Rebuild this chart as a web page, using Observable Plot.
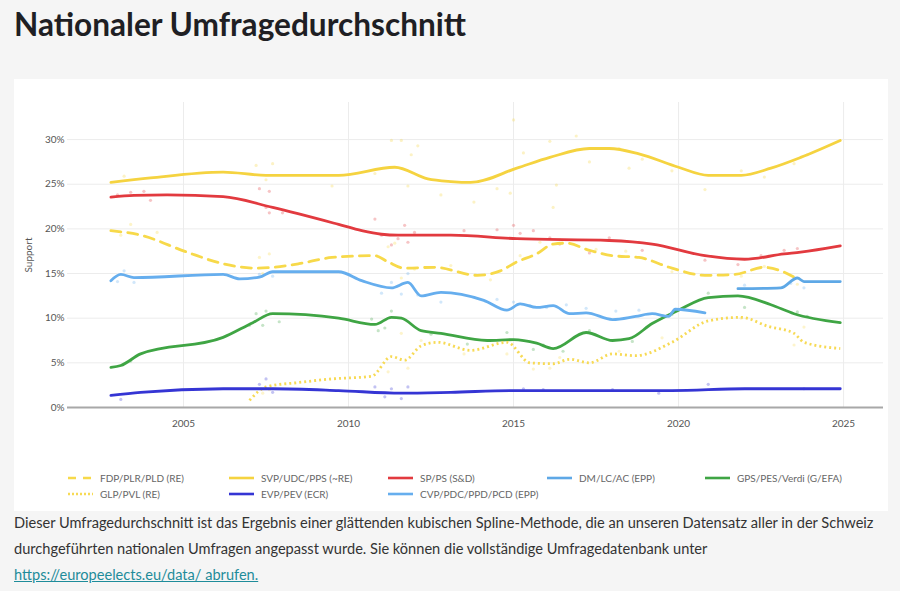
<!DOCTYPE html>
<html>
<head>
<meta charset="utf-8">
<script src="https://cdn.jsdelivr.net/npm/d3@7"></script>
<script src="https://cdn.jsdelivr.net/npm/@observablehq/plot@0.6"></script>
<style>
  html, body { margin: 0; padding: 0; }
  body { width: 900px; height: 591px; background: #f5f5f5; position: relative; overflow: hidden; font-family: Lato, "Open Sans", sans-serif; }
  #title { position: absolute; left: 14px; top: 5px; font-size: 31.6px; font-weight: 700; color: #1f1f24; }
  #panel { position: absolute; left: 14px; top: 79px; width: 874px; height: 432px; background: #fff; }
  #chart { position: absolute; left: 0; top: 0; }
  .leg { position: absolute; font-size: 10px; color: #666; white-space: nowrap; line-height: 12px; }
  .leg svg { position: absolute; left: -32px; top: 1px; }
  #caption { position: absolute; left: 14px; top: 510px; width: 886px; font-size: 14.6px; line-height: 26px; color: #333; }
  #caption a { color: #1e8c9a; text-decoration: underline; }
</style>
</head>
<body>
<div id="title">Nationaler Umfragedurchschnitt</div>
<div id="panel"><div id="chart"></div></div>
<div id="caption">Dieser Umfragedurchschnitt ist das Ergebnis einer glättenden kubischen Spline-Methode, die an unseren Datensatz aller in der Schweiz<br>durchgeführten nationalen Umfragen angepasst wurde. Sie können die vollständige Umfragedatenbank unter<br><a>https://europeelects.eu/data/ abrufen.</a></div>
<script>
// ---------- data (year, support %) ----------
const svpTrend = [[2002.8,25.2],[2004,25.7],[2006.2,26.35],[2007.5,26.0],[2009.7,26.0],[2011.4,26.9],[2012.4,25.6],[2013.1,25.3],[2013.7,25.2],[2015.1,26.8],[2016.1,28.0],[2017.3,29.0],[2017.9,29.0],[2018.8,28.4],[2020,26.9],[2020.9,26.0],[2021.9,26.0],[2022.8,26.8],[2023.7,28.0],[2024.9,29.9]];
const spTrend = [[2002.8,23.55],[2003.5,23.75],[2004.5,23.8],[2006.2,23.6],[2007.7,22.4],[2009.7,20.5],[2010.4,19.8],[2011,19.4],[2011.5,19.3],[2013.1,19.3],[2015.1,18.9],[2017.9,18.7],[2019.2,18.3],[2020.8,17.0],[2022,16.6],[2023.2,17.2],[2023.7,17.4],[2024.9,18.1]];
const fdpTrend = [[2002.8,19.8],[2003.7,19.3],[2005.1,17.4],[2006.2,16.1],[2007.2,15.6],[2007.7,15.7],[2008.5,16.1],[2009.5,16.8],[2010.8,17.0],[2011.2,16.3],[2011.7,15.6],[2012.6,15.7],[2013.9,14.8],[2014.6,15.3],[2015.1,16.3],[2015.7,17.2],[2016.2,18.3],[2016.6,18.4],[2017.3,17.6],[2018,17.0],[2018.8,16.8],[2019.8,15.6],[2020.8,14.8],[2021.7,14.9],[2022.6,15.7],[2023.1,15.3],[2023.6,14.4]];
const dmTrend = [[2021.8,13.3],[2023.1,13.4],[2023.6,14.5],[2023.8,14.1],[2024.9,14.1]];
const cvpTrend = [[2002.8,14.2],[2003.1,14.9],[2003.5,14.55],[2006.2,14.9],[2006.7,14.4],[2007.3,14.6],[2007.7,15.2],[2009.7,15.2],[2010.4,14.2],[2011.3,13.4],[2011.8,14.0],[2012.2,12.5],[2012.8,12.9],[2014.1,12.0],[2014.8,10.9],[2015.2,11.6],[2015.7,11.2],[2016.2,11.4],[2016.7,10.5],[2017.2,10.6],[2018,9.85],[2018.7,10.2],[2019.2,10.5],[2019.7,10.2],[2019.9,11.0],[2020.8,10.6]];
const gpsTrend = [[2002.8,4.5],[2003.1,4.7],[2003.7,6.0],[2006.2,7.85],[2007.1,9.5],[2007.7,10.5],[2009.7,10.0],[2010.8,9.3],[2011.3,10.1],[2011.6,10.0],[2012.2,8.6],[2012.8,8.3],[2014.2,7.5],[2015,7.6],[2015.7,7.2],[2016.2,6.6],[2017.2,8.4],[2018,7.5],[2018.5,7.7],[2019.2,9.4],[2020,10.9],[2020.9,12.3],[2021.8,12.5],[2022.8,11.5],[2023.5,10.5],[2024.9,9.5]];
const glpTrend = [[2007,0.8],[2007.5,2.3],[2008.5,2.8],[2009.5,3.2],[2010.7,3.5],[2011.3,5.7],[2011.7,5.3],[2012.2,6.9],[2012.7,7.3],[2013.7,6.4],[2014.8,7.3],[2015.5,5.0],[2016.2,4.9],[2016.7,5.4],[2017.3,5.0],[2018,6.0],[2018.7,5.8],[2019.8,7.3],[2020.9,9.7],[2021.9,10.1],[2022.7,9.1],[2023.5,8.3],[2023.8,7.3],[2024.9,6.6]];
const evpTrend = [[2002.8,1.35],[2003.7,1.7],[2006.2,2.1],[2007.7,2.1],[2009.7,1.9],[2011.6,1.6],[2013.1,1.7],[2015,1.9],[2019.8,1.9],[2022,2.1],[2024.9,2.1]];

// individual polls (faint dots)
const svpPolls = [[2003.2,25.9],[2007.2,27.1],[2007.7,27.3],[2007.5,25.5],[2009.5,24.8],[2010.8,26.2],[2011.3,29.9],[2011.6,29.9],[2011.9,28.3],[2012.1,29.3],[2011.8,24.8],[2012.8,23.8],[2013.8,23.0],[2014.5,24.5],[2014.9,24.0],[2015,32.2],[2015.3,28.5],[2016.1,29.8],[2016.2,22.4],[2016.3,24.9],[2016.9,30.4],[2017.3,27.5],[2018.2,29.0],[2018.5,26.8],[2018.9,27.8],[2019.8,26.5],[2020.8,24.4],[2021.9,26.5],[2022.6,25.8],[2023.5,27.3],[2023.9,28.3]];
const spPolls = [[2003,23.8],[2003.4,24.1],[2003.8,24.2],[2004,23.2],[2007.3,24.5],[2007.6,24.2],[2007.6,21.8],[2008,21.8],[2007.5,22.4],[2010.8,21.1],[2011,19.3],[2011.3,18.2],[2011.5,18.9],[2011.7,20.4],[2011.8,18.5],[2012,19.6],[2013.5,19.8],[2014.5,19.9],[2015,20.4],[2015.2,19.5],[2015.6,19.8],[2016.1,19.0],[2016.4,18.3],[2017.3,17.3],[2017.9,19.0],[2018.8,18.5],[2018.9,17.6],[2020.8,16.5],[2021.8,16.0],[2022.5,17.0],[2023.2,17.6],[2023.6,17.8]];
const fdpPolls = [[2003.1,19.3],[2003.4,20.5],[2004.2,19.6],[2007.3,16.8],[2007.6,17.2],[2007.4,15.0],[2011.2,18.0],[2011.4,18.4],[2011.6,14.5],[2012.0,15.5],[2013.1,15.9],[2014.3,14.3],[2015.2,17.0],[2015.8,18.5],[2016.4,18.8],[2017.5,17.7],[2018.4,17.5],[2019.8,15.2],[2021.9,14.7],[2022.6,15.8],[2023.6,13.8]];
const centrePolls = [[2003,14.1],[2003.2,15.3],[2003.5,14.0],[2007.3,14.9],[2007.7,14.7],[2011.0,12.8],[2011.3,14.0],[2011.6,12.7],[2011.8,15.0],[2012.1,12.6],[2012.8,11.8],[2014.5,12.1],[2015.0,11.8],[2015.5,11.4],[2016,11.2],[2016.6,11.5],[2017.2,11.1],[2018.1,10.8],[2018.8,10.9],[2019.5,10.3],[2022.0,13.7],[2023.4,13.9],[2023.8,13.4]];
const gpsPolls = [[2003.4,5.2],[2007,9.2],[2007.2,10.5],[2007.5,10.8],[2007.4,9.2],[2007.9,9.6],[2010.7,9.9],[2010.9,8.6],[2011.3,10.8],[2011.1,8.9],[2012.5,8.2],[2013.6,7.1],[2014.8,8.4],[2015.6,6.5],[2015.9,7.0],[2016.5,6.3],[2017.3,8.6],[2018.6,7.4],[2019.8,10.4],[2020.9,12.8],[2022,11.2],[2023.6,10.7],[2023.9,10.2]];
const glpPolls = [[2007.4,1.6],[2007.6,2.0],[2011.2,4.0],[2011.6,8.3],[2011.8,4.4],[2012.2,7.5],[2013.5,6.0],[2014.8,6.0],[2015.6,4.3],[2016.1,4.4],[2016.4,5.6],[2018.2,6.3],[2019.5,7.8],[2021.9,10.0],[2023.5,7.0],[2023.8,9.0]];
const evpPolls = [[2003.1,0.9],[2007.3,2.6],[2007.5,3.2],[2007.7,1.7],[2010.8,2.3],[2011.1,1.2],[2011.3,2.1],[2011.6,1.0],[2011.8,2.3],[2015.3,2.1],[2015.9,2.0],[2018,2.0],[2019.4,1.6],[2020.9,2.6],[2023.8,2.1]];

const xTicks = [2005, 2010, 2015, 2020, 2025];
const yTicks = [0, 5, 10, 15, 20, 25, 30];

const series = [
  {name: "FDP/PLR/PLD (RE)", trend: fdpTrend, polls: fdpPolls, color: "#f7d94a", dash: "10,7"},
  {name: "SVP/UDC/PPS (~RE)", trend: svpTrend, polls: svpPolls, color: "#f5d340", dash: null},
  {name: "SP/PS (S&D)", trend: spTrend, polls: spPolls, color: "#e23a3f", dash: null},
  {name: "DM/LC/AC (EPP)", trend: dmTrend, polls: [], color: "#5ea8e6", dash: null},
  {name: "GPS/PES/Verdi (G/EFA)", trend: gpsTrend, polls: gpsPolls, color: "#3fa544", dash: null},
  {name: "GLP/PVL (RE)", trend: glpTrend, polls: glpPolls, color: "#f7da55", dash: "2,3"},
  {name: "EVP/PEV (ECR)", trend: evpTrend, polls: evpPolls, color: "#3535d4", dash: null},
  {name: "CVP/PDC/PPD/PCD (EPP)", trend: cvpTrend, polls: centrePolls, color: "#66aeee", dash: null}
];

const marks = [
  Plot.gridX(xTicks, {stroke: "#ececec", strokeOpacity: 1}),
  Plot.gridY(yTicks.filter(d => d > 0), {stroke: "#ececec", strokeOpacity: 1}),
  Plot.axisX(xTicks, {tickSize: 0, tickPadding: 12, tickFormat: d => String(d), label: null, fill: "#555", fontSize: 10}),
  Plot.axisY(yTicks, {tickSize: 0, tickPadding: 3, tickFormat: d => d + "%", label: "Support", labelAnchor: "center", labelArrow: "none", labelOffset: 43, fill: "#555", fontSize: 10}),
  Plot.ruleY([0], {stroke: "#a8a8a8", strokeWidth: 2})
];
for (const s of series) {
  marks.push(Plot.dot(s.polls, {x: d => d[0], y: d => d[1], r: 1.6, fill: s.color, fillOpacity: 0.3, stroke: "none"}));
}
for (const s of series) {
  marks.push(Plot.line(s.trend, {x: d => d[0], y: d => d[1], stroke: s.color, strokeWidth: 2.8, curve: "monotone-x", strokeDasharray: s.dash || undefined, strokeLinecap: s.dash === "2,3" ? "butt" : "round"}));
}

const chart = Plot.plot({
  width: 874,
  height: 360,
  marginTop: 23,
  marginBottom: 32,
  marginLeft: 53,
  marginRight: 5,
  x: {domain: [2001.485, 2026.21]},
  y: {domain: [0, 34.15]},
  style: {fontFamily: "Lato, sans-serif", fontSize: "10px", color: "#555", background: "transparent"},
  marks
});
document.getElementById("chart").appendChild(chart);

// legend (inside the white panel)
const panel = document.getElementById("panel");
const legCols = [68, 229, 388, 547, 705];
series.forEach((s, i) => {
  const row = i < 5 ? 0 : 1;
  const col = i < 5 ? i : i - 5;
  const el = document.createElement("div");
  el.className = "leg";
  el.style.left = (legCols[col] + 32 - 14) + "px";
  el.style.top = (472 - 79 + row * 16) + "px";
  const dash = s.dash === "10,7" ? 'stroke-dasharray="8,7"' : (s.dash ? 'stroke-dasharray="2,2"' : "");
  el.innerHTML = `<svg width="26" height="10"><line x1="0" x2="25" y1="5" y2="5" stroke="${s.color}" stroke-width="2.6" ${dash}/></svg>` + s.name.replace(/&/g, "&amp;");
  panel.appendChild(el);
});
</script>
</body>
</html>
